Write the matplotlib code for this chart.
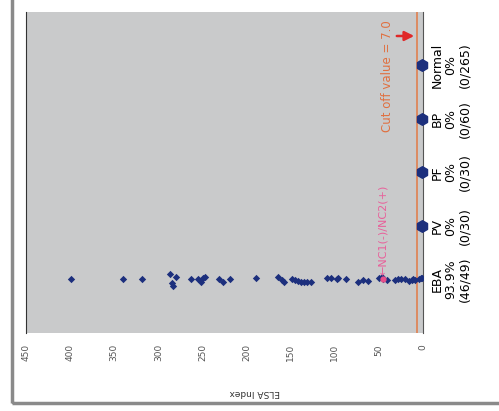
import matplotlib
matplotlib.use("Agg")
import matplotlib.pyplot as plt
from matplotlib.patches import Rectangle

# ELSA index per group (chart is printed rotated: index runs right -> left)
categories = ["EBA", "PV", "PF", "BP", "Normal"]
group_labels = [
    "EBA\n93.9%\n(46/49)",
    "PV\n0%\n(0/30)",
    "PF\n0%\n(0/30)",
    "BP\n0%\n(0/60)",
    "Normal\n0%\n(0/265)",
]
eba_values = [399, 340, 318, 287, 285, 283, 280, 263, 255, 252, 249, 247,
              231, 227, 219, 189, 164, 160, 158, 149, 145, 142, 138, 135,
              132, 127, 109, 104, 98, 96, 87, 74, 68, 62, 50, 47, 45, 41,
              32, 28, 25, 20, 16, 13, 11, 9, 5, 3, 1.5]
eba_jitter = [0, 0, 0, 0.1, -0.06, -0.13, 0.05, 0, 0, -0.05, 0.02, 0.05,
              0, -0.04, 0, 0.03, 0.04, -0.02, -0.04, 0, -0.02, -0.03, -0.04, -0.05,
              -0.05, -0.04, 0.02, 0.02, 0, 0.03, 0, -0.04, -0.02, -0.03, 0.02, 0.04, 0, -0.02,
              -0.01, 0.0, 0.01, 0.0, -0.03, -0.02, 0.0, -0.02, 0.01, 0.02, 0.03]
other_values = [1, 1, 1, 1]
cutoff = 7.0
control_value = 46

fig = plt.figure(figsize=(4.99, 4.11), dpi=100)
ax = fig.add_axes([0.052, 0.19, 0.796, 0.781])
ax.set_facecolor("#c9cacb")

ax.scatter(eba_values, [0 + j for j in eba_jitter], marker="D", s=14,
           color="#1c2f7d", zorder=3, linewidths=0)
ax.scatter(other_values, range(1, len(categories)), marker="h", s=70,
           color="#1c2f7d", zorder=4, clip_on=False)

# positive/negative control marker
ax.scatter([control_value], [0], s=12, color="#e8508a", zorder=5)
ax.text(control_value, 0.08, "\u2190NC1(-)/NC2(+)", rotation=90, color="#e8609a",
        fontsize=8, ha="center", va="bottom")

# cut off line
ax.axvline(cutoff, color="#e08050", lw=1.2, zorder=2)
ax.text(40, 2.75, "Cut off value = 7.0", rotation=90, color="#e07040",
        fontsize=8.5, ha="center", va="bottom")
ax.annotate("", xy=(cutoff, 4.55), xytext=(33, 4.55),
            arrowprops=dict(arrowstyle="-|>", color="#e02828", lw=1.8,
                            mutation_scale=14))

ax.set_xlim(450, 0)
ax.set_ylim(-1, 5)
ax.set_xticks(range(0, 451, 50))
ax.set_xticklabels([str(t) for t in range(0, 451, 50)], rotation=90,
                   fontsize=6.5, color="#555555")
ax.tick_params(axis="x", length=0, pad=8)
ax.set_yticks(range(len(categories)))
ax.set_yticklabels([])
ax.tick_params(axis="y", length=0)
for spine in ["top", "bottom"]:
    ax.spines[spine].set_visible(False)
ax.spines["left"].set_color("#333333")
ax.spines["right"].set_color("#555555")

for i, lab in enumerate(group_labels):
    ax.text(1.07, (i + 1) / 6, lab, transform=ax.transAxes, rotation=90,
            fontsize=9, ha="center", va="center", linespacing=1.05)

fig.text(0.51, 0.046, "ELSA Index", rotation=180, fontsize=6.5,
         ha="center", va="center", color="#333333")

# scanned page frame
fig.patches.append(Rectangle((0.024, 0.019), 1.2, 1.2, transform=fig.transFigure,
                             fill=False, edgecolor="#8a8a8a", lw=2.5))

fig.savefig("out.png", dpi=100)
